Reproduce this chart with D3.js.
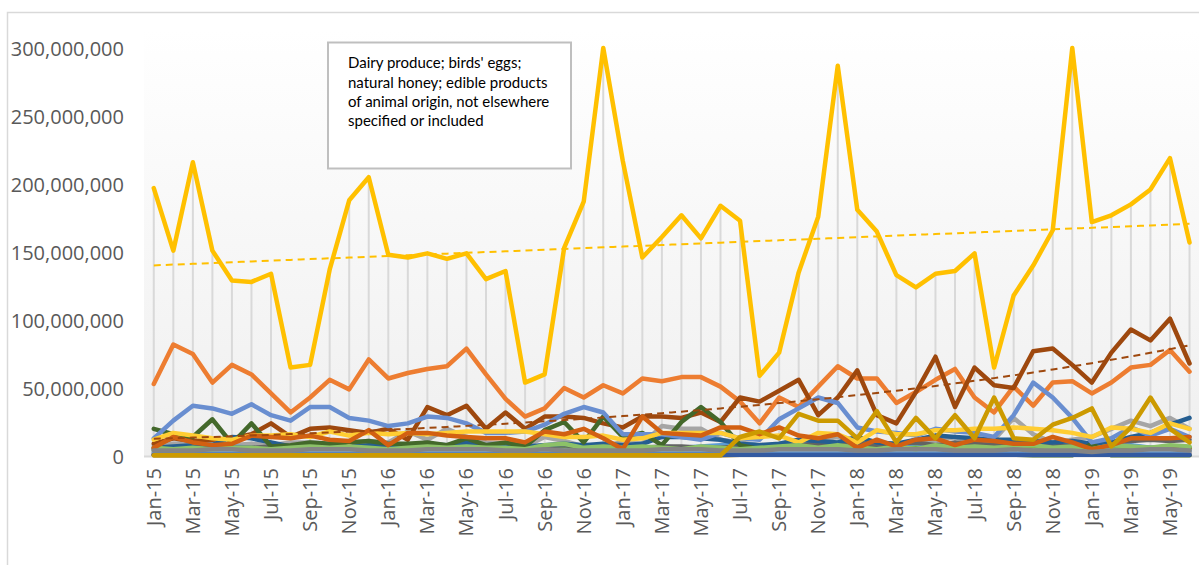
<!DOCTYPE html>
<html>
<head>
<meta charset="utf-8">
<script src="https://cdn.jsdelivr.net/npm/d3@7"></script>
<style>
  html, body { margin: 0; padding: 0; background: #ffffff; }
  svg { display: block; }
</style>
</head>
<body>
<svg id="chart" width="1199" height="565"></svg>
<script>
// Monthly import values (millions) by product group, Jan 2015 – Jun 2019
const months = [
  "Jan-15","Feb-15","Mar-15","Apr-15","May-15","Jun-15","Jul-15","Aug-15","Sep-15","Oct-15","Nov-15","Dec-15",
  "Jan-16","Feb-16","Mar-16","Apr-16","May-16","Jun-16","Jul-16","Aug-16","Sep-16","Oct-16","Nov-16","Dec-16",
  "Jan-17","Feb-17","Mar-17","Apr-17","May-17","Jun-17","Jul-17","Aug-17","Sep-17","Oct-17","Nov-17","Dec-17",
  "Jan-18","Feb-18","Mar-18","Apr-18","May-18","Jun-18","Jul-18","Aug-18","Sep-18","Oct-18","Nov-18","Dec-18",
  "Jan-19","Feb-19","Mar-19","Apr-19","May-19","Jun-19"
];

const yTicks = [0, 50, 100, 150, 200, 250, 300];

const s01 = [2,2,3,2,2,3,2,2,3,2,2,3, 2,3,2,2,3,2,2,3,2,3,2,2, 2,3,2,3,2,2,3,2,2,3,2,3, 2,2,3,2,3,2,2,3,2,2,3,2, 2,3,2,3,2,3];
const s02 = [53,82,75,54,67,60,46,32,43,56,49,71, 57,61,64,66,79,60,42,29,35,50,43,52, 46,57,55,58,58,51,40,24,43,36,51,66, 57,57,39,47,56,64,43,32,51,37,54,55, 46,54,65,67,78,62];
const s03 = [8,9,10,9,8,9,8,10,10,9,10,11, 10,18,12,20,14,10,9,7,14,11,7,8, 10,9,22,20,20,12,10,8,8,10,12,14, 12,10,8,10,11,14,10,12,28,16,10,12, 14,20,26,22,28,20];
const s04 = [197,151,216,151,129,128,134,65,67,137,188,205, 148,146,149,145,149,130,136,54,60,153,187,300, 217,146,161,177,160,184,173,59,76,135,176,287, 181,165,133,124,134,136,149,65,118,140,166,300, 172,177,185,196,219,157];
const s05 = [5,5,6,6,7,6,5,5,7,6,6,5, 6,7,8,7,6,6,7,6,8,7,8,7, 6,5,7,6,7,8,9,8,7,6,7,6, 6,5,6,7,6,7,9,8,7,7,6,8, 6,7,8,6,7,6];
const s06 = [4,4,5,4,4,5,4,5,4,4,5,5, 5,4,5,6,5,4,6,8,4,5,4,5, 5,4,4,5,6,5,8,6,7,6,5,5, 5,6,5,6,5,6,5,5,6,7,5,5, 4,5,6,6,5,6];
const s07 = [1,1,1,1,1,1,1,1,1,1,1,1, 1,1,1,1,1,1,1,1,1,1,1,1, 1,1,1,1,1,1,1,1,1,1,1,1, 1,1,1,1,1,1,1,1,1,1,1,1, 1,1,1,1,1,1];
const s08 = [9,13,11,12,13,16,24,14,20,21,19,17, 20,12,36,30,37,20,32,20,29,29,28,24, 21,29,29,28,32,25,43,40,48,56,30,43, 63,30,24,47,73,36,65,52,50,77,79,67, 54,76,93,85,101,68];
const s09 = [5,6,6,5,6,6,7,6,6,7,6,6, 6,7,6,6,7,6,5,6,7,8,6,6, 6,6,7,7,6,6,7,6,7,8,9,9, 10,8,9,10,8,10,9,8,8,10,7,8, 9,10,11,12,11,12];
const s10 = [0.5,0.5,0.5,0.5,0.5,0.5,0.5,0.5,0.5,0.5,0.5,0.5, 0.5,0.5,0.5,0.5,0.5,0.5,0.5,0.5,0.5,0.5,0.5,0.5, 0.5,0.5,0.5,0.5,0.5,0.5,1,1,1,1,1,1, 1,1,1,1,1,1,1,1,1,1,1,1, 2,3,4,5,6,5];
const s11 = [6,7,8,8,14,13,10,7,6,7,7,8, 8,8,9,8,10,8,9,7,8,9,8,9, 8,9,14,14,13,12,9,8,9,12,11,10, 14,10,9,12,15,14,13,12,12,11,10,11, 9,10,14,17,23,28];
const s12 = [20,16,14,27,9,24,7,8,10,9,10,11, 9,9,10,8,13,8,10,7,19,25,10,29, 14,17,8,25,36,25,8,5,4,4,3,3, 3,3,2,3,2,2,2,1,1,0.5,0.5,0.5, 9,0.5,0.5,0.5,0.5,0.5];
const s13 = [13,26,37,35,31,38,30,26,36,36,28,26, 22,24,29,28,24,17,17,18,23,31,36,32, 16,16,16,14,12,17,13,12,27,35,43,39, 21,18,17,15,20,18,17,14,30,54,43,28, 10,13,21,15,20,14];
const s14 = [2,2,1,2,2,3,2,2,2,3,7,3, 2,2,1,2,2,2,3,2,2,2,2,1, 2,1,2,2,2,2,1,2,2,2,2,2, 2,2,1,2,2,2,1,2,1,2,2,1, 2,2,2,1,2,2];
const s15 = [2,2,2,2,2,2,2,2,2,2,2,2, 2,2,2,2,2,2,2,2,2,2,2,2, 2,2,2,2,2,2,2,2,2,2,2,2, 2,2,2,2,2,2,2,2,2,2,2,2, 2,2,2,2,2,2];
const s16 = [12,17,15,13,12,15,15,16,14,18,15,17, 16,17,16,17,18,18,18,18,16,14,14,15, 12,13,17,17,17,17,13,14,15,10,17,16, 10,19,16,16,19,19,20,20,21,20,19,17, 14,21,20,17,24,20];
const s17 = [3,4,3,4,3,4,3,3,4,3,4,3, 4,3,4,3,4,3,3,4,3,4,3,4, 3,4,3,4,3,4,3,4,3,4,3,4, 3,4,3,4,3,4,3,4,3,4,3,4, 3,4,3,4,3,4];
const s18 = [6,5,6,5,6,6,5,6,7,6,7,6, 5,6,7,6,7,6,6,5,8,9,6,7, 6,7,6,5,7,6,5,6,7,8,6,8, 6,5,7,5,8,6,7,6,7,8,6,7, 5,8,7,6,8,7];
const s19 = [1,1,1,1,1,1,1,1,1,1,1,1, 1,1,1,1,1,1,1,1,1,1,1,1, 1,1,1,1,1,1,1,1,1,1,1,1, 1,1,1,1,1,1,1,1,1,1,1,1, 1,1,1,1,1,1];
const s20 = [6,14,10,8,9,15,14,13,15,12,11,19, 8,17,17,15,14,13,13,10,18,16,20,13, 5,29,17,16,15,21,21,16,21,15,13,16, 6,12,7,12,13,8,12,11,9,9,14,10, 5,8,13,13,13,14];
const s21 = [4,4,4,5,5,4,4,4,5,5,5,4, 4,4,5,5,5,5,4,4,5,4,4,4, 4,4,5,5,5,4,4,4,5,5,5,5, 4,4,5,5,5,4,4,4,5,4,4,4, 3,4,4,5,5,4];
const s22 = [0.5,0.5,0.5,0.5,0.5,0.5,0.5,0.5,0.5,0.5,0.5,0.5, 0.5,0.5,0.5,0.5,0.5,0.5,0.5,0.5,0.5,0.5,0.5,0.5, 0.5,0.5,0.5,0.5,0.5,0.5,14,18,13,31,26,26, 13,33,10,28,13,30,13,43,13,12,23,28, 35,7,21,43,20,10];

const seriesValues = [s01,s02,s03,s04,s05,s06,s07,s08,s09,s10,s11,s12,s13,s14,s15,s16,s17,s18,s19,s20,s21,s22];
const palette = ["#4472C4","#ED7D31","#A5A5A5","#FFC000","#5B9BD5","#70AD47","#264478","#9E480E","#636363","#997300","#255E91","#43682B",
                 "#698ED0","#F1975A","#B7B7B7","#FFCD33","#7CAFDD","#8CC168","#335AA1","#D26012","#848484","#CC9A00"];
// trendlines: which series, and the fit type
const trendSeries = [3, 7];
const trendTypes = ["linear", "exponential"];

const noteLines = [
  "Dairy produce; birds' eggs;",
  "natural honey; edible products",
  "of animal origin, not elsewhere",
  "specified or included"
];

const svg = d3.select("#chart");
const W = 1199, H = 565;
const plot = { left: 144, right: 1199.3, top: 30, bottom: 456 };

const x = d3.scaleBand().domain(months).range([plot.left, plot.right]).padding(0);
const cx = m => x(m) + x.bandwidth() / 2;
const y = d3.scaleLinear().domain([0, 300]).range([plot.bottom, 48]);

// outer chart frame
svg.append("rect")
  .attr("x", 7.5).attr("y", 12.5).attr("width", W + 50).attr("height", H + 50)
  .attr("fill", "#ffffff").attr("stroke", "#d9d9d9").attr("stroke-width", 1.5);

// plot area gradient
const defs = svg.append("defs");
const grad = defs.append("linearGradient").attr("id", "plotFill")
  .attr("x1", 0).attr("y1", 0).attr("x2", 0).attr("y2", 1);
grad.append("stop").attr("offset", "0%").attr("stop-color", "#ffffff");
grad.append("stop").attr("offset", "100%").attr("stop-color", "#efefef");
svg.append("rect")
  .attr("x", plot.left).attr("y", plot.top)
  .attr("width", plot.right - plot.left).attr("height", plot.bottom - plot.top)
  .attr("fill", "url(#plotFill)");

// drop lines from the highest point of each month down to the axis
svg.append("g").selectAll("line").data(months).join("line")
  .attr("x1", m => cx(m)).attr("x2", m => cx(m))
  .attr("y1", (m, i) => y(d3.max(seriesValues, s => s[i])))
  .attr("y2", y(0))
  .attr("stroke", "#d9d9d9").attr("stroke-width", 2);

// category axis line
svg.append("line")
  .attr("x1", plot.left).attr("x2", plot.right)
  .attr("y1", y(0) + 0.5).attr("y2", y(0) + 0.5)
  .attr("stroke", "#d9d9d9").attr("stroke-width", 2);

// value axis labels
const yAxis = d3.axisLeft(y).tickValues(yTicks)
  .tickFormat(v => d3.format(",")(v * 1e6)).tickSize(0).tickPadding(0);
const gy = svg.append("g").attr("transform", "translate(124,0)").call(yAxis);
gy.select(".domain").remove();
gy.selectAll("text")
  .attr("font-family", "'Open Sans', sans-serif").attr("font-size", 20)
  .attr("fill", "#595959").attr("dy", "0.35em");

// category axis labels (every other month), rotated
const xAxis = d3.axisBottom(x).tickValues(months.filter((m, i) => i % 2 === 0))
  .tickSize(0).tickPadding(0);
const gx = svg.append("g").attr("transform", `translate(0,${plot.bottom})`).call(xAxis);
gx.select(".domain").remove();
gx.selectAll("text")
  .attr("font-family", "'Open Sans', sans-serif").attr("font-size", 20)
  .attr("fill", "#595959")
  .attr("text-anchor", "end")
  .attr("transform", "translate(0,12) rotate(-90)")
  .attr("x", 0).attr("y", 0).attr("dy", "0.35em");

// series lines
const line = d3.line()
  .x((d, i) => cx(months[i]))
  .y(d => y(d));

svg.append("g").selectAll("path").data(seriesValues).join("path")
  .attr("d", d => line(d))
  .attr("fill", "none")
  .attr("stroke", (d, i) => palette[i])
  .attr("stroke-width", 4.5)
  .attr("stroke-linejoin", "round")
  .attr("stroke-linecap", "round");

// least-squares fit of v against month index; exponential fits ln(v)
function fitTrend(vals, type) {
  const n = vals.length;
  const ys = type === "exponential" ? vals.map(v => Math.log(v)) : vals;
  const mx = (n - 1) / 2, my = d3.mean(ys);
  let sxy = 0, sxx = 0;
  ys.forEach((v, i) => { sxy += (i - mx) * (v - my); sxx += (i - mx) * (i - mx); });
  const b = sxy / sxx, a = my - b * mx;
  return i => type === "exponential" ? Math.exp(a + b * i) : a + b * i;
}
const trendLine = d3.line().x(d => cx(months[0]) + d.i * x.step()).y(d => y(d.v));
trendSeries.forEach((si, k) => {
  const f = fitTrend(seriesValues[si], trendTypes[k]);
  const n = seriesValues[si].length;
  const pts = d3.range(0, n - 1 + 0.001, 0.5).map(i => ({ i, v: f(i) }));
  svg.append("path")
    .attr("d", trendLine(pts))
    .attr("fill", "none")
    .attr("stroke", palette[si]).attr("stroke-width", 2)
    .attr("stroke-dasharray", "7,5");
});

// chart note box
const note = svg.append("g");
note.append("rect")
  .attr("x", 328).attr("y", 42.5).attr("width", 243).attr("height", 126)
  .attr("fill", "#ffffff").attr("stroke", "#bfbfbf").attr("stroke-width", 2);
note.selectAll("text").data(noteLines).join("text")
  .attr("x", 348)
  .attr("y", (d, i) => 63 + i * 19.4)
  .attr("dy", "0.35em")
  .attr("font-family", "Lato, sans-serif").attr("font-size", 15)
  .attr("fill", "#000000")
  .text(d => d);
</script>
</body>
</html>
